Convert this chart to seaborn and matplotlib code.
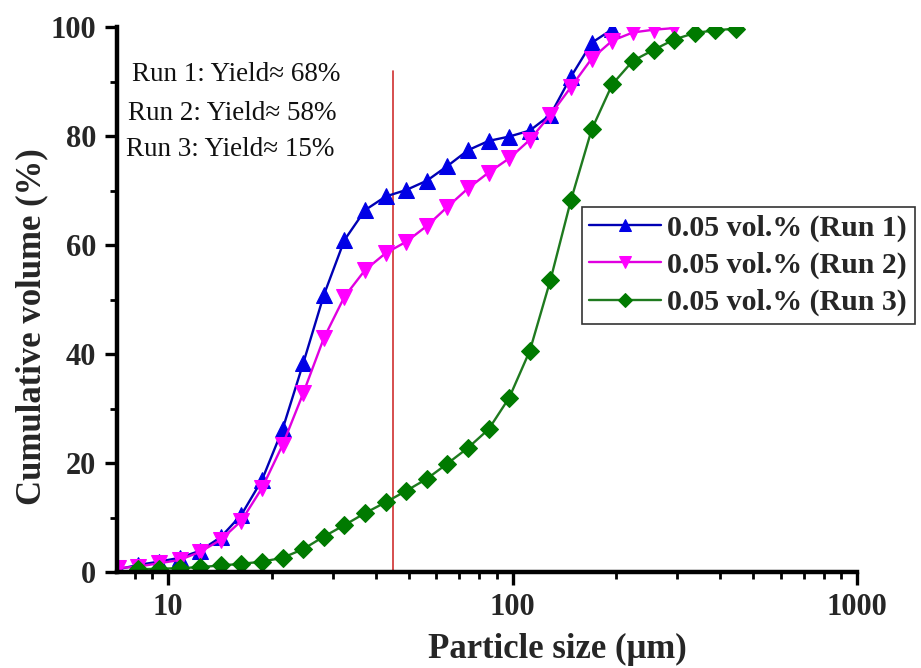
import numpy as np
import pandas as pd
import matplotlib
matplotlib.use("Agg")
import matplotlib.pyplot as plt
from matplotlib.ticker import LogLocator, NullFormatter, FixedLocator, MultipleLocator
import seaborn as sns

# Particle size bins (µm), log-spaced
sizes = [7.14, 8.19, 9.40, 10.79, 12.38, 14.21, 16.31, 18.72, 21.48, 24.66,
         28.30, 32.48, 37.28, 42.79, 49.11, 56.36, 64.69, 74.25, 85.21, 97.79,
         112.2, 128.8, 147.8, 169.7, 194.8, 223.5, 256.6, 294.4, 337.9, 387.9,
         445.2]

# Cumulative volume (%) for each run
run1 = [0.5, 1.3, 1.9, 2.6, 3.9, 6.4, 10.5, 16.9, 26.2, 38.3,
        50.8, 60.9, 66.4, 68.9, 70.1, 71.8, 74.5, 77.4, 79.1, 79.9,
        81.0, 83.9, 90.9, 97.1, 99.6]
run2 = [0.7, 1.0, 1.6, 2.2, 3.7, 5.9, 9.4, 15.4, 23.3, 32.8,
        42.9, 50.5, 55.4, 58.5, 60.6, 63.5, 67.0, 70.4, 73.3, 75.9,
        79.3, 83.9, 89.0, 94.2, 97.5, 99.0, 99.5, 99.8]
run3 = [0.5, 0.6, 0.7, 0.9, 1.2, 1.5, 1.9, 2.6, 4.2, 6.5,
        8.6, 10.8, 12.8, 14.9, 17.1, 19.9, 22.8, 26.2, 32.0, 40.6,
        53.6, 68.3, 81.2, 89.5, 93.8, 95.8, 97.7, 98.9, 99.4, 99.7]

labels = ["0.05 vol.% (Run 1)", "0.05 vol.% (Run 2)", "0.05 vol.% (Run 3)"]
notes = ["Run 1: Yield\u2248 68%", "Run 2: Yield\u2248 58%", "Run 3: Yield\u2248 15%"]
cut_size = 45.0
cut_top = 92.0

sns.set_theme(style="ticks")
plt.rcParams["font.family"] = ["Liberation Serif", "DejaVu Serif"]

fig = plt.figure(figsize=(9.21, 6.68), dpi=100)
ax = fig.add_axes([117 / 921, 1 - 572 / 668, 740 / 921, 545 / 668])

series = [
    (run1, sizes[:len(run1)], "^", "#0000E6", "#0000B4", 11),
    (run2, sizes[:len(run2)], "v", "#FF00FF", "#E000E0", 11),
    (run3, sizes[1:len(run3) + 1], "D", "#007A00", "#1F7A1F", 9.5),
]

for (vals, xs, mk, mcol, lcol, ms), lab in zip(series, labels):
    df = pd.DataFrame({"size": xs, "cum": vals})
    sns.lineplot(data=df, x="size", y="cum", ax=ax, color=lcol, lw=1.7,
                 marker=mk, markersize=ms, markerfacecolor=mcol,
                 markeredgecolor=mcol, label=lab, sort=False)

ax.plot([cut_size, cut_size], [0, cut_top], color="#D03030", lw=1.2, zorder=1)

ax.set_xscale("log")
ax.set_xlim(7.1, 1000)
ax.set_ylim(0, 100)

ax.xaxis.set_major_locator(FixedLocator([10, 100, 1000]))
ax.set_xticklabels(["10", "100", "1000"])
ax.xaxis.set_minor_locator(LogLocator(base=10, subs=np.arange(2, 10)))
ax.xaxis.set_minor_formatter(NullFormatter())
ax.yaxis.set_major_locator(MultipleLocator(20))
ax.yaxis.set_minor_locator(MultipleLocator(10))

for sp in ["top", "right"]:
    ax.spines[sp].set_visible(False)
for sp in ["left", "bottom"]:
    ax.spines[sp].set_linewidth(3.2)
    ax.spines[sp].set_color("black")

ax.tick_params(which="major", direction="out", length=9, width=2.4, color="black",
               labelsize=22, pad=6)
ax.tick_params(which="minor", direction="out", length=5, width=2.0, color="black")
for t in ax.get_xticklabels() + ax.get_yticklabels():
    t.set_fontweight("bold")

ax.set_xlabel("Particle size (\u03bcm)", fontsize=25, fontweight="bold")
ax.set_ylabel("Cumulative volume (%)", fontsize=25, fontweight="bold")
ax.xaxis.set_label_coords(0.595, -0.112)
ax.yaxis.set_label_coords(-0.093, 0.45)

note_pos = [(0.020, 0.912), (0.0149, 0.842), (0.0122, 0.776)]
for (nx, ny), txt in zip(note_pos, notes):
    ax.text(nx, ny, txt, transform=ax.transAxes, fontsize=19.5, va="center", ha="left",
            color="#111111")

leg = ax.legend(loc="upper left", bbox_to_anchor=(0.628, 0.67), frameon=True,
                fancybox=False, framealpha=1, edgecolor="#333333",
                prop={"weight": "bold", "size": 21.5}, handlelength=2.4,
                handletextpad=0.2, labelspacing=0.33, borderpad=0.26,
                borderaxespad=0, markerscale=0.75)
leg.get_frame().set_linewidth(1.2)

fig.savefig("out.png", dpi=100, facecolor="white")
